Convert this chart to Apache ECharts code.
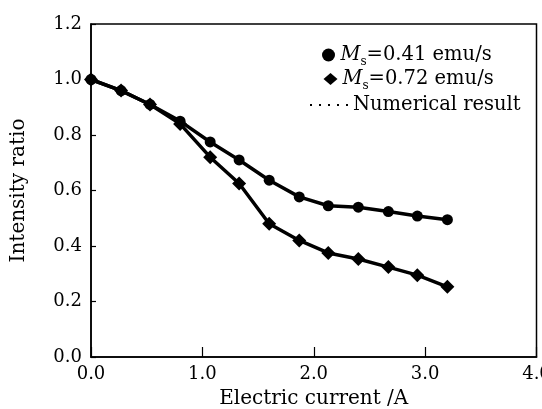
<!DOCTYPE html>
<html>
<head>
<meta charset="utf-8">
<script src="https://cdn.jsdelivr.net/npm/echarts@6/dist/echarts.min.js"></script>
<style>
html,body{margin:0;padding:0;background:#fff;}
#c{width:542px;height:409px;}
</style>
</head>
<body>
<div id="c"></div>
<script>
// ---- data ----
var current = [0, 0.27, 0.53, 0.8, 1.07, 1.33, 1.6, 1.87, 2.13, 2.4, 2.67, 2.93, 3.2];
var ratioMs041 = [1.0, 0.96, 0.91, 0.85, 0.775, 0.71, 0.637, 0.577, 0.545, 0.54, 0.524, 0.508, 0.495];
var ratioMs072 = [1.0, 0.96, 0.91, 0.84, 0.72, 0.625, 0.48, 0.42, 0.375, 0.353, 0.324, 0.295, 0.253];
var xTicks = [0, 1, 2, 3, 4];
var yTicks = [0, 0.2, 0.4, 0.6, 0.8, 1.0, 1.2];
var nameA = 'Ms=0.41 emu/s';
var nameB = 'Ms=0.72 emu/s';
var nameNum = 'Numerical result';

function pairs(xs, ys){ return xs.map(function(x,i){ return [x, ys[i]]; }); }

var FONT = 'DejaVu Serif';
var chart = echarts.init(document.getElementById('c'), null, {renderer:'canvas'});

var legendText = {
  fontFamily: FONT, fontSize: 19.5, color: '#000',
  rich: {
    i: {fontFamily: FONT, fontSize: 19.5, fontStyle: 'italic', color:'#000'},
    s: {fontFamily: FONT, fontSize: 12, color:'#000', padding:[14,0,0,0]},
    n: {fontFamily: FONT, fontSize: 19.5, color:'#000'}
  }
};
function fmt(name){
  if (name === nameNum) return '{n|' + name + '}';
  var rest = name.substring(3);
  return '{i|M}{s|s}{n|=' + rest + '}';
}

chart.setOption({
  animation: false,
  backgroundColor: '#fff',
  grid: {left: 91, right: 5.5, top: 24, bottom: 52, containLabel: false, outerBoundsMode: 'none',
         show: true, borderColor: '#000', borderWidth: 1.5},
  legend: [
    {data:[nameA], orient:'vertical', left: 322, top: 45, itemWidth: 14, itemHeight: 13,
     formatter: fmt, textStyle: legendText, padding: 0},
    {data:[nameB], orient:'vertical', left: 323.5, top: 69, itemWidth: 14, itemHeight: 12,
     formatter: fmt, textStyle: legendText, padding: 0},
    {data:[{name: nameNum, lineStyle:{type:[2,7], width:2, color:'#000'},
            itemStyle:{color:'rgba(0,0,0,0)', borderWidth:0, opacity:0}}],
     orient:'vertical', left: 309, top: 95,
     itemWidth: 38, itemHeight: 12, formatter: fmt, textStyle: legendText, padding: 0}
  ],
  xAxis: {
    type: 'value', min: xTicks[0], max: xTicks[xTicks.length-1], interval: 1,
    name: 'Electric current /A', nameLocation: 'middle', nameGap: 32,
    nameTextStyle: {fontFamily: FONT, fontSize: 20, color: '#000'},
    axisLine: {show: true, lineStyle: {color:'#000', width: 1.5}},
    axisTick: {show: true, inside: true, length: 10, lineStyle:{color:'#000', width:1.2}},
    splitLine: {show: false},
    axisLabel: {fontFamily: FONT, fontSize: 18, color: '#000', margin: 8,
                formatter: function(v){ return v.toFixed(1); }}
  },
  yAxis: {
    type: 'value', min: yTicks[0], max: yTicks[yTicks.length-1], interval: 0.2,
    name: 'Intensity ratio', nameLocation: 'middle', nameGap: 62,
    nameTextStyle: {fontFamily: FONT, fontSize: 20, color: '#000'},
    axisLine: {show: true, lineStyle: {color:'#000', width: 1.5}},
    axisTick: {show: true, inside: true, length: 5, lineStyle:{color:'#000', width:1.2}},
    splitLine: {show: false},
    axisLabel: {fontFamily: FONT, fontSize: 18, color: '#000', margin: 9,
                formatter: function(v){ return v.toFixed(1); }}
  },
  series: [
    {name: nameNum, type: 'line', data: pairs(current, ratioMs041), symbol: 'none',
     itemStyle: {color:'#000'}, lineStyle: {color:'#000', width: 3.5}, z: 2},
    {name: nameNum, type: 'line', data: pairs(current, ratioMs072), symbol: 'none',
     itemStyle: {color:'#000'}, lineStyle: {color:'#000', width: 3.5}, z: 2},
    {name: nameA, type: 'scatter', data: pairs(current, ratioMs041), symbol: 'circle', symbolSize: 11,
     itemStyle: {color:'#000', opacity: 1}, z: 3},
    {name: nameB, type: 'scatter', data: pairs(current, ratioMs072), symbol: 'diamond', symbolSize: 14,
     itemStyle: {color:'#000', opacity: 1}, z: 3}
  ]
});
</script>
</body>
</html>
